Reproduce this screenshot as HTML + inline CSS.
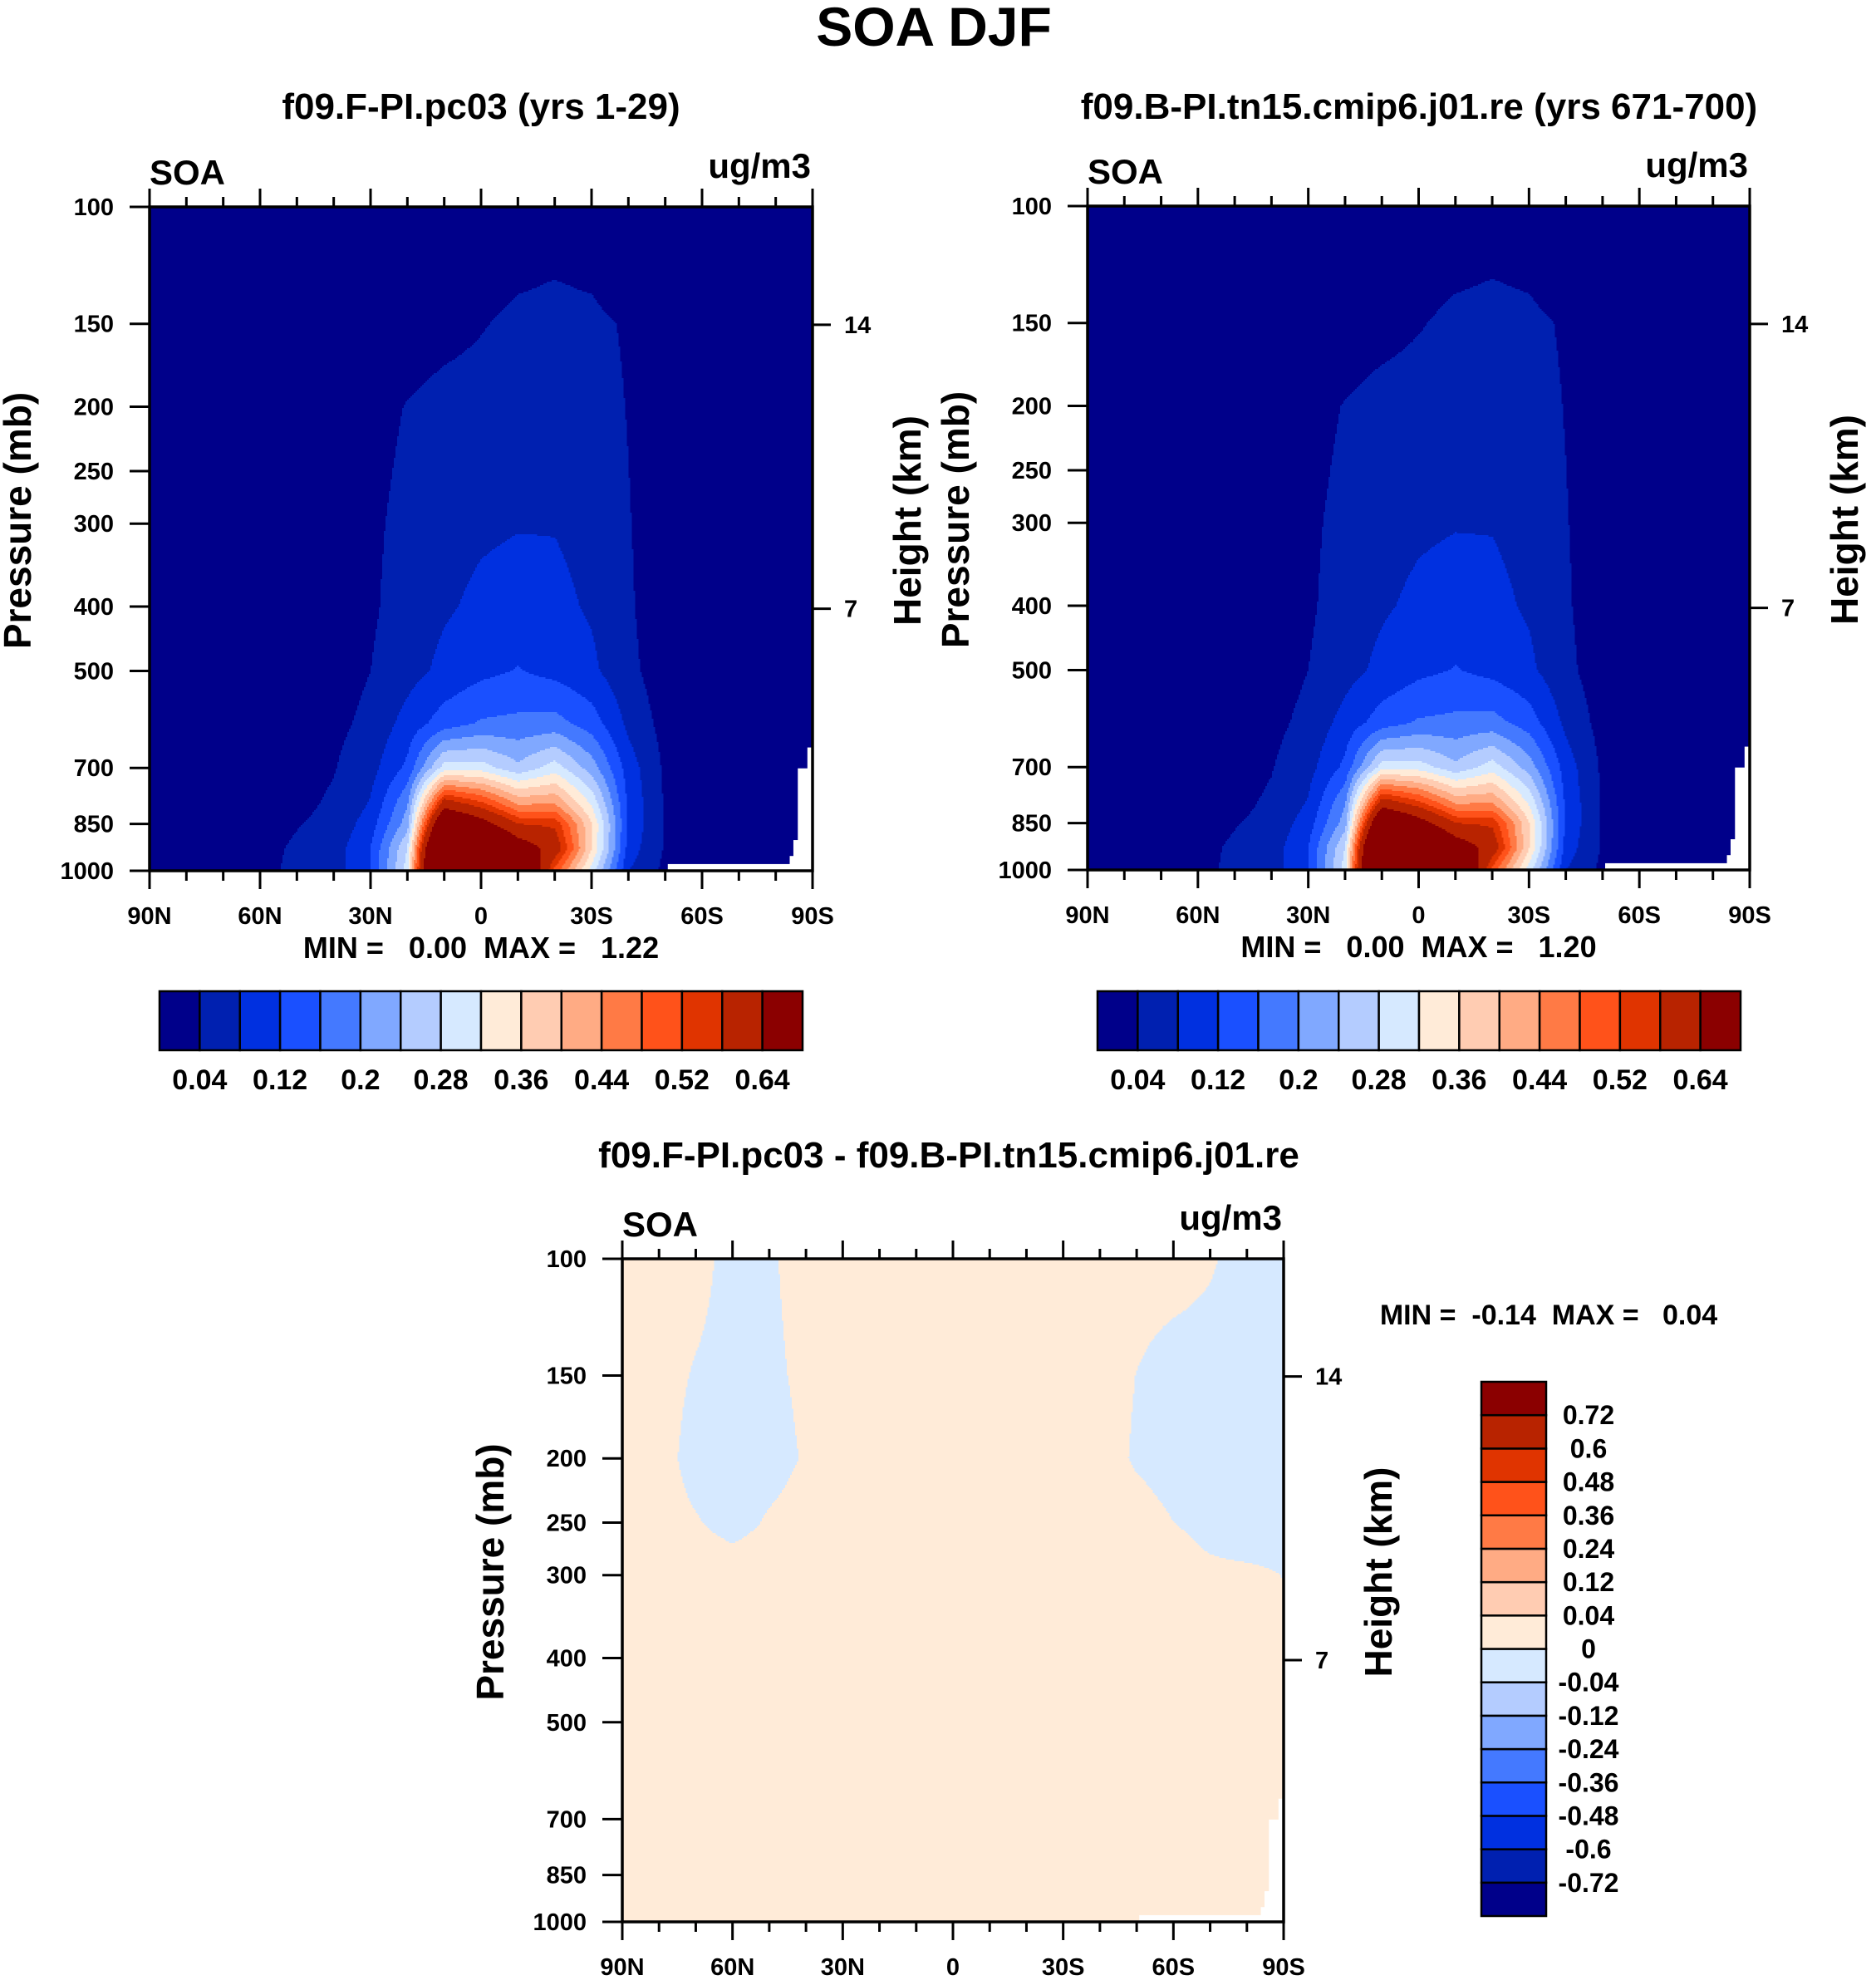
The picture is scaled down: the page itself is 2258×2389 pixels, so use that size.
<!DOCTYPE html>
<html><head><meta charset="utf-8">
<style>
html,body{margin:0;padding:0;background:#fff;}
svg text{font-family:"Liberation Sans",Arial,sans-serif;font-weight:bold;fill:#000;white-space:pre;}
</style></head>
<body>
<svg id="chart" xmlns="http://www.w3.org/2000/svg" width="2258" height="2384" viewBox="0 0 2258 2384">
<rect x="0" y="0" width="2258" height="2384" fill="#fff"/>
<text x="1124" y="55" font-size="66" text-anchor="middle">SOA DJF</text>
<text x="579" y="143" font-size="44" text-anchor="middle">f09.F-PI.pc03 (yrs 1-29)</text>
<text x="1708" y="143" font-size="44" text-anchor="middle">f09.B-PI.tn15.cmip6.j01.re (yrs 671-700)</text>
<text x="1142" y="1405" font-size="44" text-anchor="middle">f09.F-PI.pc03 - f09.B-PI.tn15.cmip6.j01.re</text>
<g id="p1"></g>
<g id="p2"></g>
<g id="p3"></g>
<g id="cb"></g>
</svg>
<script>
// ---------- data ----------
const lats = [90,80,70,60,50,40,30,20,10,0,-10,-20,-30,-40,-50,-60,-70,-80,-90];
const presA = [100,130,150,200,300,400,500,600,700,800,850,925,1000];
const soaA = [
[.01,.01,.01,.01,.01,.01,.01,.01,.01,.01,.01,.01,.01,.01,.01,.01,.01,.01,.01],
[.01,.01,.01,.01,.01,.01,.01,.01,.015,.025,.036,.041,.036,.015,.01,.01,.01,.01,.01],
[.01,.01,.01,.01,.01,.01,.01,.015,.025,.037,.05,.052,.05,.035,.01,.01,.01,.01,.01],
[.01,.01,.01,.01,.01,.01,.025,.042,.055,.058,.062,.062,.058,.038,.01,.01,.01,.01,.01],
[.01,.01,.01,.01,.01,.012,.032,.052,.066,.074,.078,.078,.068,.042,.015,.01,.01,.01,.01],
[.01,.01,.01,.01,.01,.015,.034,.058,.075,.088,.095,.09,.075,.045,.015,.01,.01,.01,.01],
[.01,.01,.01,.01,.012,.022,.04,.065,.09,.11,.122,.108,.088,.05,.018,.01,.01,.01,.01],
[.01,.01,.01,.01,.018,.03,.05,.095,.14,.165,.17,.175,.14,.07,.025,.01,.01,.01,.01],
[.01,.01,.01,.015,.025,.038,.065,.13,.3,.3,.25,.3,.22,.1,.032,.01,.01,.01,.01],
[.01,.01,.01,.02,.032,.046,.085,.2,.62,.55,.45,.45,.32,.11,.035,.01,.01,.01,.01],
[.01,.01,.01,.025,.038,.05,.1,.22,.8,.68,.56,.55,.36,.11,.035,.01,.01,.01,.01],
[.01,.01,.01,.03,.045,.06,.12,.28,1.0,.85,.7,.6,.36,.1,.035,.01,.01,.01,.01],
[.01,.01,.01,.03,.048,.06,.12,.3,1.1,1.05,.85,.5,.3,.08,.03,.01,.01,.01,.01]
];
const soaB = [
[.01,.01,.01,.01,.01,.01,.01,.01,.01,.01,.01,.01,.01,.01,.01,.01,.01,.01,.01],
[.01,.01,.01,.01,.01,.01,.01,.01,.015,.025,.036,.041,.036,.015,.01,.01,.01,.01,.01],
[.01,.01,.01,.01,.01,.01,.01,.015,.025,.037,.05,.052,.05,.035,.01,.01,.01,.01,.01],
[.01,.01,.01,.01,.01,.01,.025,.042,.055,.058,.062,.062,.058,.038,.01,.01,.01,.01,.01],
[.01,.01,.01,.01,.01,.012,.032,.052,.066,.074,.078,.078,.068,.042,.015,.01,.01,.01,.01],
[.01,.01,.01,.01,.01,.015,.034,.058,.075,.088,.095,.09,.075,.045,.015,.01,.01,.01,.01],
[.01,.01,.01,.01,.012,.022,.04,.065,.09,.11,.122,.108,.088,.05,.018,.01,.01,.01,.01],
[.01,.01,.01,.01,.018,.03,.05,.095,.14,.165,.17,.175,.14,.07,.025,.01,.01,.01,.01],
[.01,.01,.01,.015,.025,.038,.065,.13,.3,.3,.25,.3,.22,.1,.032,.01,.01,.01,.01],
[.01,.01,.01,.02,.032,.046,.085,.2,.62,.55,.45,.45,.32,.11,.035,.01,.01,.01,.01],
[.01,.01,.01,.025,.038,.05,.1,.22,.8,.68,.56,.55,.36,.11,.035,.01,.01,.01,.01],
[.01,.01,.01,.03,.045,.06,.12,.28,1.0,.85,.7,.6,.36,.1,.035,.01,.01,.01,.01],
[.01,.01,.01,.03,.048,.06,.12,.3,1.08,1.03,.85,.5,.3,.08,.03,.01,.01,.01,.01]
];
const presD = [100,150,200,250,275,300,400,1000];
const soaDiff = [
[.01,.01,.01,-.01,-.0033,.01,.01,.01,.01,.01,.01,.01,.01,.01,.01,.01,.0025,-.01,-.01],
[.01,.01,-.0025,-.01,-.005,.005,.01,.01,.01,.01,.01,.01,.01,.01,-.0005,-.01,-.01,-.01,-.01],
[.01,.01,-.01,-.01,-.01,.0025,.01,.01,.01,.01,.01,.01,.01,.01,-.003,-.01,-.01,-.01,-.01],
[.01,.01,.002,-.01,.003,.01,.01,.01,.01,.01,.01,.01,.01,.01,.01,0,-.01,-.01,-.01],
[.01,.01,.01,.003,.01,.01,.01,.01,.01,.01,.01,.01,.01,.01,.01,.01,-.002,-.01,-.01],
[.01,.01,.01,.01,.01,.01,.01,.01,.01,.01,.01,.01,.01,.01,.01,.01,.01,.01,-.001],
[.01,.01,.01,.01,.01,.01,.01,.01,.01,.01,.01,.01,.01,.01,.01,.01,.01,.01,.01],
[.01,.01,.01,.01,.01,.01,.01,.01,.01,.01,.01,.01,.01,.01,.01,.01,.01,.01,.01]
];
const missLatFrom = [-88.6,-86,-84.8,-83.8,-50.7];
const missPFrom = [652,701,899,950,977];
const levelsA = [0.04,0.08,0.12,0.16,0.2,0.24,0.28,0.32,0.36,0.4,0.44,0.48,0.52,0.56,0.64];
const levelsD = [-0.72,-0.6,-0.48,-0.36,-0.24,-0.12,-0.04,0,0.04,0.12,0.24,0.36,0.48,0.6,0.72];
const labelsA = ["0.04","0.12","0.2","0.28","0.36","0.44","0.52","0.64"];
const labelsD = ["-0.72","-0.6","-0.48","-0.36","-0.24","-0.12","-0.04","0","0.04","0.12","0.24","0.36","0.48","0.6","0.72"];
const colors = ["#00008a","#0020b0","#0030e0","#1a50ff","#4479ff","#80a8ff","#b4ccff","#d6e9ff","#ffebd8","#ffccb2","#ffab84","#ff7a45","#ff521a","#e03400","#b82300","#8b0000"];
const pTicks = [100,150,200,250,300,400,500,700,850,1000];
const latTicks = [90,60,30,0,-30,-60,-90];
const latTickLabels = ["90N","60N","30N","0","30S","60S","90S"];
const hTicks = [14,7];
const hTickP = [150.5,403];
// ---------- helpers ----------
const NS="http://www.w3.org/2000/svg";
function mk(tag, parent, attrs){const e=document.createElementNS(NS,tag);for(const k in attrs)e.setAttribute(k,attrs[k]);parent.appendChild(e);return e;}
function interp(field, pres, lat, p){
  let i=0; while(i<lats.length-2 && lat<lats[i+1]) i++;
  let fx=(lats[i]-lat)/(lats[i]-lats[i+1]); fx=Math.max(0,Math.min(1,fx));
  const lp=Math.log(p); let j=0; while(j<pres.length-2 && p>pres[j+1]) j++;
  let fy=(lp-Math.log(pres[j]))/(Math.log(pres[j+1])-Math.log(pres[j])); fy=Math.max(0,Math.min(1,fy));
  const a=field[j][i],b=field[j][i+1],c=field[j+1][i],d=field[j+1][i+1];
  return (a*(1-fx)+b*fx)*(1-fy)+(c*(1-fx)+d*fx)*fy;
}
function levelIdx(v, lev){let k=0;while(k<lev.length && v>=lev[k])k++;return k;}
function panel(g, L,T,W,H, field, pres, lev, name, minmax){
  const xOf=lat=>L+(90-lat)/180*W;
  const yOf=p=>T+Math.log10(p/100)*H;
  const latOf=x=>90-(x-L)/W*180;
  const pOf=y=>100*Math.pow(10,(y-T)/H);
  const fill=mk('g',g,{});
  
  
  const step=2;
  const d=colors.map(()=>[]);
  for(let y=T;y<T+H;y+=step){
    const p=pOf(y+step/2); const hh=Math.min(step,T+H-y)+0.5;
    let runStart=L, runC=-1;
    for(let x=L;x<L+W;x+=step){
      const c=levelIdx(interp(field,pres,latOf(x+step/2),p),lev);
      if(c!==runC){
        if(runC>=0){
          const w=x-runStart+0.5;
          d[runC].push('M'+runStart+' '+y+'h'+w+'v'+hh+'h'+(-w)+'z');
        }
        runStart=x; runC=c;
      }
    }
    if(runC>=0){
      const w=L+W-runStart;
      d[runC].push('M'+runStart+' '+y+'h'+w+'v'+hh+'h'+(-w)+'z');
    }
  }
  d.forEach((parts,k)=>{
    if(!parts.length) return;
    const pth=mk('path',fill,{d:parts.join(''),fill:colors[k]});
    
    
  });
  for(let k=0;k<missLatFrom.length;k++){
    const x0=xOf(missLatFrom[k]), y0=yOf(missPFrom[k]);
    const r=mk('rect',g,{x:x0,y:y0,width:L+W-x0,height:T+H-y0,fill:'#fff'});
    
    
  }
  const frame=mk('rect',g,{x:L,y:T,width:W,height:H,fill:'none',stroke:'#000','stroke-width':3.5});
  
  
  for(let lat=90;lat>=-90;lat-=10){
    const x=xOf(lat); const major=(lat%30===0); const len=major?22:12;
    const t1=mk('line',g,{x1:x,y1:T,x2:x,y2:T-len,stroke:'#000','stroke-width':3});
    
    
    const t2=mk('line',g,{x1:x,y1:T+H,x2:x,y2:T+H+len,stroke:'#000','stroke-width':3});
    
    
  }
  latTicks.forEach((lat,k)=>{
    const t=mk('text',g,{x:xOf(lat),y:T+H+64,'font-size':29,'text-anchor':'middle'});
    t.textContent=latTickLabels[k];
    
    
  });
  pTicks.forEach(p=>{
    const y=yOf(p);
    const l=mk('line',g,{x1:L,y1:y,x2:L-24,y2:y,stroke:'#000','stroke-width':3});
    
    
    const t=mk('text',g,{x:L-43,y:y+10,'font-size':29,'text-anchor':'end'});
    t.textContent=String(p);
    
    
  });
  hTicks.forEach((h,k)=>{
    const y=yOf(hTickP[k]);
    const l=mk('line',g,{x1:L+W,y1:y,x2:L+W+22,y2:y,stroke:'#000','stroke-width':3});
    
    
    const t=mk('text',g,{x:L+W+38,y:y+10,'font-size':29});
    t.textContent=String(h);
    
    
  });
  const s=mk('text',g,{x:L,y:T-27,'font-size':42}); s.textContent='SOA';
  
  
  const u=mk('text',g,{x:L+W-2,y:T-35,'font-size':42,'text-anchor':'end'}); u.textContent='ug/m3';
  
  
  const yc=T+H*0.5;
  const pt=mk('text',g,{x:0,y:0,'font-size':46,'text-anchor':'middle',transform:`translate(${L-143},${yc-22}) rotate(-90)`}); pt.textContent='Pressure (mb)';
  
  
  const ht=mk('text',g,{x:0,y:0,'font-size':46,'text-anchor':'middle',transform:`translate(${L+W+130},${yc-22}) rotate(-90)`}); ht.textContent='Height (km)';
  
  
  if(minmax){
    const m=mk('text',g,{x:L+W/2,y:T+H+105,'font-size':36,'text-anchor':'middle'}); m.textContent=minmax;
    
    
  }
}
panel(document.getElementById('p1'),180,249,798,799,soaA,presA,levelsA,'panel1','MIN =   0.00  MAX =   1.22');
panel(document.getElementById('p2'),1309,248,797,799,soaB,presA,levelsA,'panel2','MIN =   0.00  MAX =   1.20');
panel(document.getElementById('p3'),749,1515,796,798,soaDiff,presD,levelsD,'panel3',null);
const p3=document.getElementById('p3');
const mm=mk('text',p3,{x:1864,y:1594,'font-size':34,'text-anchor':'middle'}); mm.textContent='MIN =  -0.14  MAX =   0.04';


// ---------- colorbars ----------
const cb=document.getElementById('cb');
function hbar(x0,name){
  const w=(966-192)/16;
  colors.forEach((c,k)=>{
    const r=mk('rect',cb,{x:x0+k*w,y:1193,width:w,height:71,fill:c,stroke:'#000','stroke-width':2.5});
    
    
  });
  labelsA.forEach((s,k)=>{
    const t=mk('text',cb,{x:x0+(2*k+1)*w,y:1311,'font-size':34,'text-anchor':'middle'}); t.textContent=s;
    
    
  });
}
hbar(192,'colorbar-top-left');
hbar(1321,'colorbar-top-right');
(function(){
  const x0=1783,y0=1663,w=78,h=(2306-1663)/16;
  colors.forEach((c,k)=>{
    const r=mk('rect',cb,{x:x0,y:y0+(15-k)*h,width:w,height:h,fill:c,stroke:'#000','stroke-width':2.5});
    
    
  });
  labelsD.forEach((s,k)=>{
    const t=mk('text',cb,{x:1912,y:y0+(15-k)*h+11,'font-size':32,'text-anchor':'middle'}); t.textContent=s;
    
    
  });
})();
</script>
</body></html>
